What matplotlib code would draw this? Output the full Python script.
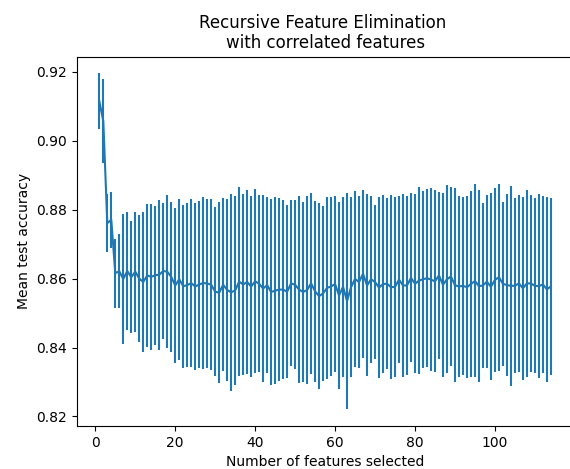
import matplotlib
matplotlib.use('Agg')
import matplotlib.pyplot as plt

# Mean test accuracy and its std for every number of selected features (1..114)
mean_test_accuracy = [
    0.9115, 0.9057, 0.8761, 0.8770, 0.8616, 0.8621, 0.8599, 0.8622, 0.8604, 0.8620,
    0.8600, 0.8590, 0.8609, 0.8605, 0.8610, 0.8611, 0.8622, 0.8620, 0.8605, 0.8580,
    0.8598, 0.8578, 0.8581, 0.8587, 0.8577, 0.8583, 0.8587, 0.8586, 0.8582, 0.8562,
    0.8559, 0.8582, 0.8567, 0.8560, 0.8566, 0.8591, 0.8583, 0.8590, 0.8577, 0.8592,
    0.8585, 0.8571, 0.8581, 0.8561, 0.8565, 0.8568, 0.8568, 0.8562, 0.8586, 0.8582,
    0.8568, 0.8561, 0.8567, 0.8586, 0.8563, 0.8549, 0.8557, 0.8573, 0.8577, 0.8584,
    0.8551, 0.8576, 0.8535, 0.8575, 0.8599, 0.8590, 0.8614, 0.8580, 0.8598, 0.8590,
    0.8574, 0.8584, 0.8585, 0.8575, 0.8576, 0.8597, 0.8580, 0.8580, 0.8602, 0.8585,
    0.8594, 0.8598, 0.8601, 0.8597, 0.8592, 0.8609, 0.8582, 0.8598, 0.8606, 0.8581,
    0.8577, 0.8579, 0.8575, 0.8584, 0.8593, 0.8578, 0.8580, 0.8591, 0.8576, 0.8596,
    0.8604, 0.8585, 0.8581, 0.8579, 0.8579, 0.8586, 0.8572, 0.8586, 0.8586, 0.8579,
    0.8578, 0.8583, 0.8569, 0.8577,
]
std_test_accuracy = [
    0.0080, 0.0121, 0.0083, 0.0080, 0.0100, 0.0107, 0.0189, 0.0172, 0.0163, 0.0174,
    0.0184, 0.0204, 0.0208, 0.0212, 0.0202, 0.0218, 0.0198, 0.0222, 0.0217, 0.0226,
    0.0234, 0.0236, 0.0237, 0.0243, 0.0243, 0.0241, 0.0250, 0.0244, 0.0248, 0.0246,
    0.0263, 0.0251, 0.0263, 0.0285, 0.0275, 0.0275, 0.0262, 0.0266, 0.0264, 0.0267,
    0.0257, 0.0271, 0.0256, 0.0270, 0.0272, 0.0265, 0.0259, 0.0251, 0.0241, 0.0245,
    0.0272, 0.0261, 0.0273, 0.0263, 0.0262, 0.0270, 0.0254, 0.0264, 0.0259, 0.0256,
    0.0270, 0.0261, 0.0314, 0.0262, 0.0255, 0.0250, 0.0243, 0.0264, 0.0242, 0.0224,
    0.0263, 0.0258, 0.0248, 0.0267, 0.0261, 0.0243, 0.0265, 0.0259, 0.0245, 0.0259,
    0.0272, 0.0256, 0.0258, 0.0265, 0.0264, 0.0243, 0.0267, 0.0273, 0.0259, 0.0281,
    0.0262, 0.0258, 0.0264, 0.0269, 0.0280, 0.0278, 0.0238, 0.0251, 0.0271, 0.0268,
    0.0271, 0.0238, 0.0263, 0.0290, 0.0254, 0.0256, 0.0265, 0.0271, 0.0256, 0.0254,
    0.0267, 0.0258, 0.0269, 0.0257,
]
n_features = list(range(1, len(mean_test_accuracy) + 1))

fig = plt.figure(figsize=(5.7, 4.69), dpi=100)
# axes run slightly past the right edge, like the cropped original
ax = fig.add_axes([0.1346, 0.0917, 0.8714, 0.7874])

ax.errorbar(n_features, mean_test_accuracy, yerr=std_test_accuracy)

ax.set_xlabel('Number of features selected')
ax.set_ylabel('Mean test accuracy')
ax.set_title('Recursive Feature Elimination \nwith correlated features')

fig.savefig('out.png', dpi=100)
plt.close(fig)
